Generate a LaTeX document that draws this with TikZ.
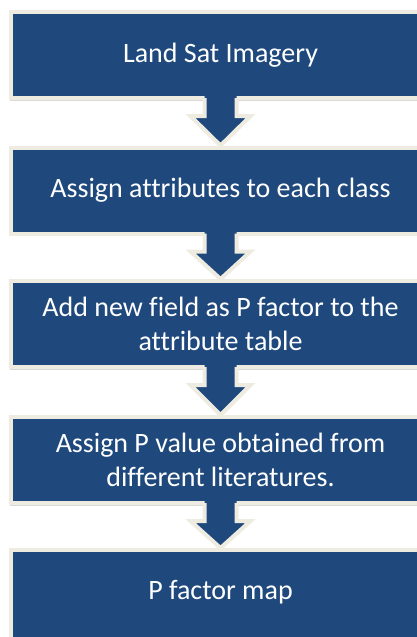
\documentclass[tikz,border=0pt]{standalone}
\usepackage{fontspec}
\setmainfont[Ligatures=NoCommon]{Carlito}
\usetikzlibrary{calc,shadows}
\definecolor{boxblue}{HTML}{1F497D}
\definecolor{rimcream}{HTML}{EEECE1}
\tikzset{
  stage/.style={draw=rimcream, line width=4pt, fill=boxblue, text=white,
    minimum width=419pt, minimum height=86pt, inner sep=0pt, align=center,
    font=\fontsize{28}{34}\selectfont,
    drop shadow={shadow xshift=-1pt, shadow yshift=-2.5pt, opacity=0.15, fill=black}},
  flowfill/.style={fill=boxblue},
  flowrim/.style={draw=rimcream, line width=4pt, line join=miter},
}
% block arrow from the bottom of one stage to the top of the next
\newcommand\stagearrow[2]{%
  \fill[flowfill] ($(#1.south)+(-16,4)$) -- ($(#1.south)+(-16,-16)$)
    -- ($(#1.south)+(-30,-16)$) -- (#2.north) -- ($(#1.south)+(30,-16)$)
    -- ($(#1.south)+(16,-16)$) -- ($(#1.south)+(16,4)$) -- cycle;
  \draw[flowrim] ($(#1.south)+(-16,2)$) -- ($(#1.south)+(-16,-16)$)
    -- ($(#1.south)+(-30,-16)$) -- (#2.north) -- ($(#1.south)+(30,-16)$)
    -- ($(#1.south)+(16,-16)$) -- ($(#1.south)+(16,2)$);
}
\begin{document}
\begin{tikzpicture}[x=1pt, y=1pt]
  \useasboundingbox (0,0) rectangle (417,-637);
  \clip (0,0) rectangle (417,-637);
  \fill[white] (0,0) rectangle (417,-637);

  \node[stage] (s1) at (220.5,-55) {Land Sat Imagery};
  \node[stage] (s2) at (220.5,-190.5) {Assign attributes to each class};
  \node[stage] (s3) at (220.5,-324) {Add new field as P factor to the\\attribute table};
  \node[stage] (s4) at (220.5,-460) {Assign P value obtained from\\different literatures.};
  \node[stage, minimum height=96pt, text depth=17pt] (s5) at (220.5,-598) {P factor map};

  \stagearrow{s1}{s2}
  \stagearrow{s2}{s3}
  \stagearrow{s3}{s4}
  \stagearrow{s4}{s5}
\end{tikzpicture}
\end{document}
